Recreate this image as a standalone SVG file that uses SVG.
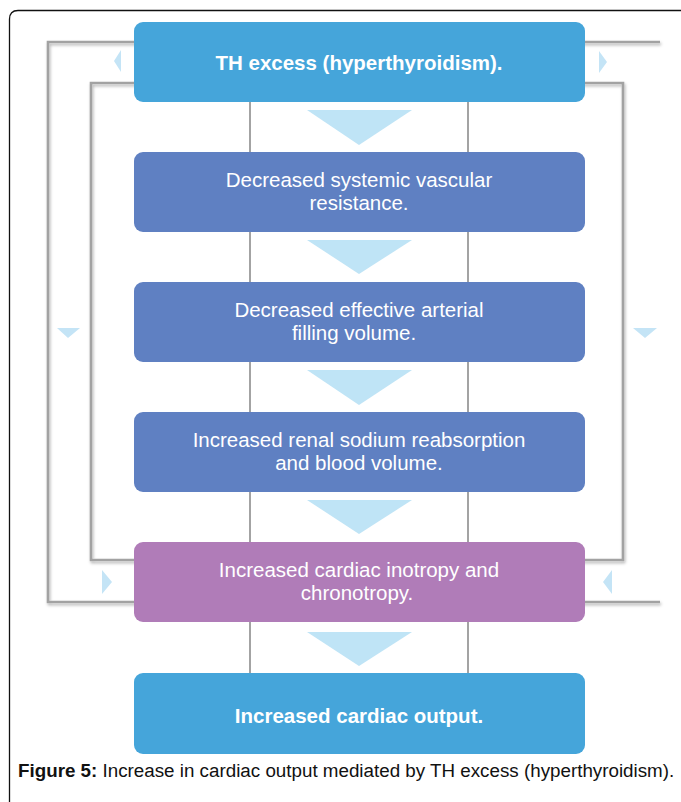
<svg xmlns="http://www.w3.org/2000/svg" width="681" height="802" viewBox="0 0 681 802">
<style>
.frame{fill:none;stroke:#111;stroke-width:1.3}
.ln{fill:none;stroke:#a2a2a2;stroke-width:2.6;filter:url(#sh)}
.vl{fill:none;stroke:#a3a3a3;stroke-width:2}
.blue{fill:#45a5da}
.indigo{fill:#5f80c2}
.purple{fill:#b07cb8}
.arr{fill:#bfe4f6}
.sarr{fill:#c4e4f6}
.t{font-family:"Liberation Sans",Arial,sans-serif;fill:#fff;text-anchor:middle;font-size:20.5px}
.tb{font-weight:bold}
.cap{font-family:"Liberation Sans",Arial,sans-serif;fill:#111;font-size:18.8px}
</style>
<defs>
<filter id="sh" x="-5%" y="-5%" width="110%" height="110%">
<feDropShadow dx="1" dy="2" stdDeviation="1.5" flood-color="#000" flood-opacity="0.3"/>
</filter>
</defs>
<rect width="681" height="802" fill="#fff"/>
<path class="frame" d="M9.5,802 V19 Q9.5,10.5 18,10.5 H681"/>
<g id="connectors">
<path class="ln" d="M660,42 H48 V602 H660"/>
<path class="ln" d="M91,83 H623 V560 H91 Z"/>
<line class="vl" x1="250" y1="100" x2="250" y2="675"/>
<line class="vl" x1="468" y1="100" x2="468" y2="675"/>
<polygon class="arr" points="307,110 412,110 359,145"/>
<polygon class="arr" points="307,240 412,240 359,274"/>
<polygon class="arr" points="307,370 412,370 359,405"/>
<polygon class="arr" points="307,500 412,500 359,534"/>
<polygon class="arr" points="307,632 412,632 359,666"/>
<polygon class="sarr" points="121,50 121,72 114,61"/>
<polygon class="sarr" points="599,51 599,73 607,62"/>
<polygon class="sarr" points="57,328 80,328 68,338"/>
<polygon class="sarr" points="633,328 657,328 645,338"/>
<polygon class="sarr" points="102,570 102,594 112,582"/>
<polygon class="sarr" points="612,570 612,594 603,582"/>
</g>
<g id="n1">
<rect class="blue" x="134" y="22" width="451" height="80" rx="9"/>
<text class="t tb" x="359" y="70">TH excess (hyperthyroidism).</text>
</g>
<g id="n2">
<rect class="indigo" x="134" y="152" width="451" height="80" rx="9"/>
<text class="t" x="359" y="187">Decreased systemic vascular</text>
<text class="t" x="359" y="210">resistance.</text>
</g>
<g id="n3">
<rect class="indigo" x="134" y="282" width="451" height="80" rx="9"/>
<text class="t" x="359" y="317">Decreased effective arterial</text>
<text class="t" x="354" y="340">filling volume.</text>
</g>
<g id="n4">
<rect class="indigo" x="134" y="412" width="451" height="80" rx="9"/>
<text class="t" x="359" y="447">Increased renal sodium reabsorption</text>
<text class="t" x="359" y="470">and blood volume.</text>
</g>
<g id="n5">
<rect class="purple" x="134" y="542" width="451" height="80" rx="9"/>
<text class="t" x="359" y="577">Increased cardiac inotropy and</text>
<text class="t" x="357" y="600">chronotropy.</text>
</g>
<g id="n6">
<rect class="blue" x="134" y="673" width="451" height="81" rx="9"/>
<text class="t tb" x="359" y="723">Increased cardiac output.</text>
</g>
<text class="cap" x="18" y="777"><tspan font-weight="bold">Figure 5:</tspan> Increase in cardiac output mediated by TH excess (hyperthyroidism).</text>
</svg>
